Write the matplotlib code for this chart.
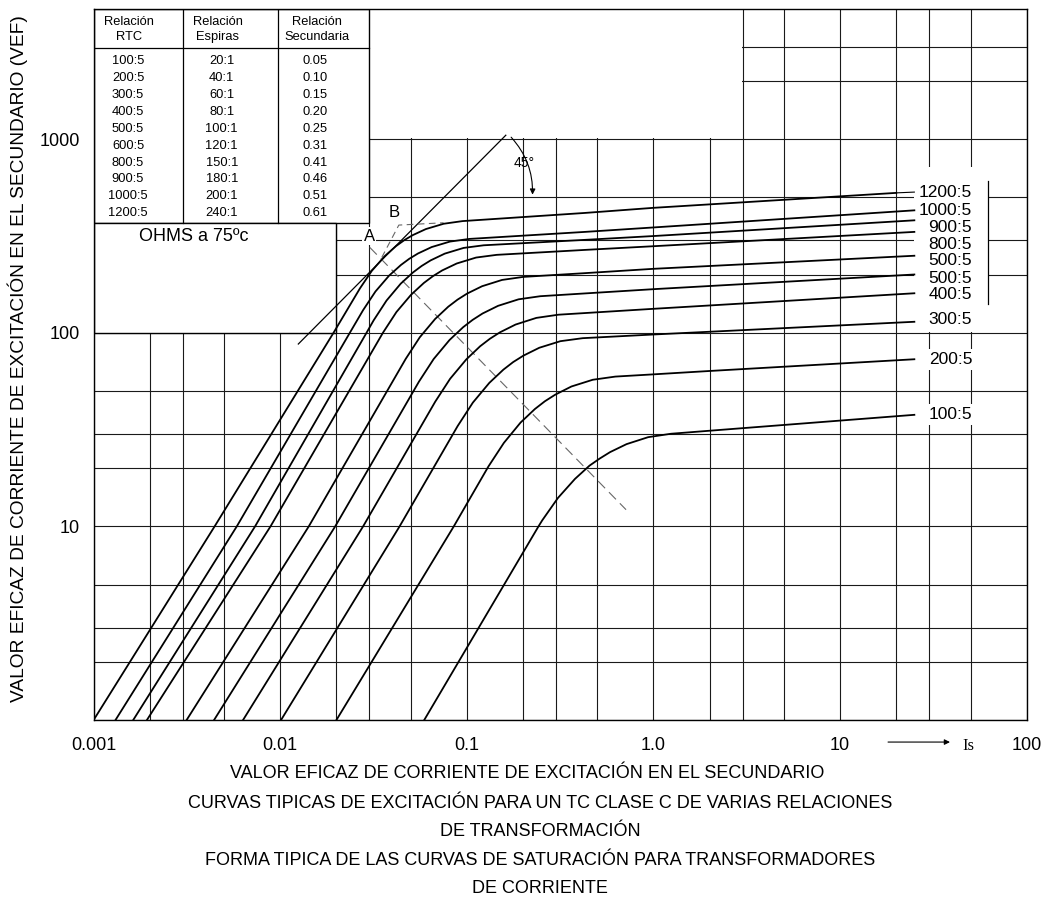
import matplotlib
matplotlib.use('Agg')
import matplotlib.pyplot as plt
from matplotlib.patches import Rectangle
from matplotlib.ticker import NullFormatter

plt.rcParams['font.family'] = ['Liberation Sans', 'DejaVu Sans']

# excitation curves: Is (A) -> Vef (V)
x_1200 = [0.001, 0.00445, 0.0193, 0.02674, 0.03094, 0.03636, 0.04183, 0.0462, 0.05124, 0.06034, 0.0751, 0.09489, 0.43, 1.0, 20]
y_1200 = [1, 10, 100, 169.6, 208.8, 249.3, 280.9, 300.9, 319.3, 343.4, 365.7, 377.5, 416, 442, 528]
x_1000 = [0.00131, 0.00585, 0.0236, 0.0278, 0.03239, 0.03834, 0.04436, 0.04914, 0.05471, 0.06479, 0.0812, 0.1033, 0.43, 1.0, 25]
y_1000 = [1, 10, 100, 130.9, 163.5, 197.5, 224.1, 241.1, 256.8, 277.2, 295.9, 305.4, 332, 350, 429]
x_900 = [0.00163, 0.00733, 0.029, 0.03165, 0.03713, 0.04423, 0.05148, 0.05725, 0.06397, 0.07616, 0.0961, 0.1231, 0.43, 1.0, 25]
y_900 = [1, 10, 100, 115.9, 146.8, 179.4, 205.1, 221.4, 236.6, 256.4, 274.4, 283.1, 302, 316, 381]
x_800 = [0.00193, 0.00887, 0.0355, 0.04194, 0.05033, 0.05888, 0.06575, 0.07373, 0.08826, 0.1121, 0.1446, 0.43, 1.0, 25]
y_800 = [1, 10, 100, 128, 157.5, 181, 196, 209.9, 228, 244.7, 252.7, 268, 280, 332]
x_600 = [0.00315, 0.01422, 0.04702, 0.05594, 0.06759, 0.07952, 0.08911, 0.1003, 0.1207, 0.1544, 0.2006, 0.42, 1.0, 25]
y_600 = [1, 10, 73.3, 94.8, 117.8, 136.4, 148.3, 159.4, 174, 187.5, 194.4, 203, 214, 250]
x_500 = [0.00442, 0.0197, 0.05542, 0.0664, 0.08077, 0.09555, 0.1074, 0.1214, 0.147, 0.1893, 0.2475, 0.42, 1.0, 25]
y_500 = [1, 10, 56, 73.2, 91.8, 106.9, 116.6, 125.8, 137.8, 148.9, 154.5, 159.5, 168, 200]
x_400 = [0.00632, 0.0278, 0.06772, 0.08137, 0.09936, 0.1178, 0.1328, 0.1503, 0.1824, 0.2358, 0.3095, 1.0, 25]
y_400 = [1, 10, 44.1, 57.9, 72.9, 85.2, 93.1, 100.5, 110.3, 119.4, 124, 133, 160]
x_300 = [0.0101, 0.0436, 0.08929, 0.1077, 0.1319, 0.1569, 0.1771, 0.2009, 0.2445, 0.3171, 0.4176, 1.0, 25]
y_300 = [1, 10, 33, 43.6, 55.1, 64.5, 70.6, 76.2, 83.7, 90.5, 93.8, 98, 114]
x_200 = [0.02, 0.0851, 0.1305, 0.1579, 0.1941, 0.2316, 0.2619, 0.2975, 0.3633, 0.4727, 0.6245, 1.0, 2.0, 25]
y_200 = [1, 10, 20.4, 27, 34.4, 40.4, 44.3, 47.9, 52.8, 57.2, 59.4, 61, 63.5, 73]
x_100 = [0.0591, 0.242, 0.2535, 0.3079, 0.3798, 0.4543, 0.5147, 0.5858, 0.7172, 0.9365, 1.242, 2.0, 25]
y_100 = [1, 10, 10.75, 14.04, 17.6, 20.6, 22.4, 24.2, 26.6, 28.9, 30.1, 31.2, 37.7]

curve_labels = ['1200:5', '1000:5', '900:5', '800:5', '500:5', '500:5', '400:5', '300:5', '200:5', '100:5']
label_y = [533, 429, 351, 286, 237, 191, 157, 117, 73, 37.9]

# tangent (45 deg) and knee lines
tangent_x = [0.0125, 0.1617]
tangent_y = [87.5, 1048]
knee_a_x = [0.0302, 0.713]
knee_a_y = [276, 12.2]
knee_b_x = [0.035, 0.0432, 0.075]
knee_b_y = [245, 360, 370]

# table
rtc = ['100:5', '200:5', '300:5', '400:5', '500:5', '600:5', '800:5', '900:5', '1000:5', '1200:5']
espiras = ['20:1', '40:1', '60:1', '80:1', '100:1', '120:1', '150:1', '180:1', '200:1', '240:1']
secundaria = ['0.05', '0.10', '0.15', '0.20', '0.25', '0.31', '0.41', '0.46', '0.51', '0.61']
headers = ['Relación\nRTC', 'Relación\nEspiras', 'Relación\nSecundaria']

x_ticks = [0.001, 0.01, 0.1, 1, 10, 100]
x_tick_labels = ['0.001', '0.01', '0.1', '1.0', '10', '100']
y_ticks = [1, 10, 100, 1000]
y_tick_labels = ['', '10', '100', '1000']

fig = plt.figure(figsize=(10.59, 9.05), dpi=100)
ax = fig.add_axes([0.0884, 0.2044, 0.8811, 0.7856])
ax.set_xscale('log')
ax.set_yscale('log')
ax.set_xlim(0.001, 100)
ax.set_ylim(1, 4700)

minor_x = [m * 10.0 ** e for e in range(-3, 2) for m in (2, 3, 5)]
minor_y = [m * 10.0 ** e for e in range(0, 4) for m in (2, 3, 5) if m * 10.0 ** e < 4700]
ax.set_xticks(x_ticks)
ax.set_xticklabels(x_tick_labels, fontsize=13)
ax.set_xticks(minor_x, minor=True)
ax.set_yticks(y_ticks)
ax.set_yticklabels(y_tick_labels, fontsize=13)
ax.set_yticks(minor_y, minor=True)
ax.xaxis.set_minor_formatter(NullFormatter())
ax.yaxis.set_minor_formatter(NullFormatter())
ax.tick_params(which='both', length=0)
ax.tick_params(axis='x', pad=12)
ax.tick_params(axis='y', pad=10)
ax.set_axisbelow(True)
ax.grid(True, which='both', color='#1a1a1a', linewidth=0.8)
for s in ax.spines.values():
    s.set_linewidth(1.0)

# blank areas of the drawing
ax.add_patch(Rectangle((0.0302, 1010), 2.98 - 0.0302, 4700 - 1010, facecolor='white', edgecolor='none', zorder=1))
ax.add_patch(Rectangle((25, 101), 62 - 25, 721 - 101, facecolor='white', edgecolor='none', zorder=1))
ax.plot([62, 62], [141, 609], color='black', lw=0.9, zorder=1.5)

# table box + ohms box
ax.add_patch(Rectangle((0.001, 370), 0.03 - 0.001, 4700 - 370, facecolor='white', edgecolor='black', lw=1, zorder=1))
ax.add_patch(Rectangle((0.001, 100), 0.02 - 0.001, 370 - 100, facecolor='white', edgecolor='black', lw=1, zorder=1))
ax.plot([0.001, 0.03], [2960, 2960], color='black', lw=0.9, zorder=1.5)
ax.plot([0.003, 0.003], [370, 4700], color='black', lw=0.9, zorder=1.5)
ax.plot([0.0097, 0.0097], [370, 4700], color='black', lw=0.9, zorder=1.5)

col_x = [0.0369, 0.1373, 0.2373]
head_x = [0.038, 0.1333, 0.2391]
for hx, h in zip(head_x, headers):
    ax.text(hx, 0.9712, h, transform=ax.transAxes, ha='center', va='center',
            fontsize=9.3, linespacing=1.25, zorder=4)
for i in range(len(rtc)):
    ry = 0.9269 - i * 0.0238
    ax.text(col_x[0], ry, rtc[i], transform=ax.transAxes, ha='center', va='center', fontsize=9.3, zorder=4)
    ax.text(col_x[1], ry, espiras[i], transform=ax.transAxes, ha='center', va='center', fontsize=9.3, zorder=4)
    ax.text(col_x[2], ry, secundaria[i], transform=ax.transAxes, ha='center', va='center', fontsize=9.3, zorder=4)
ax.text(0.1076, 0.6797, 'OHMS a 75ºc', transform=ax.transAxes, ha='center', va='center', fontsize=13, zorder=4)

# curves
curves = [(x_1200, y_1200), (x_1000, y_1000), (x_900, y_900), (x_800, y_800), (x_600, y_600),
          (x_500, y_500), (x_400, y_400), (x_300, y_300), (x_200, y_200), (x_100, y_100)]
for cx, cy in curves:
    ax.plot(cx, cy, color='black', lw=1.3, zorder=3)
ax.plot([x_1200[-1], 25], [y_1200[-1], label_y[0]], color='black', lw=0.8, zorder=3)

for i, lab in enumerate(curve_labels):
    if i >= 8:
        ax.text(51, label_y[i], lab, ha='right', va='center', fontsize=12.5, zorder=4,
                bbox=dict(facecolor='white', edgecolor='none', pad=2))
    else:
        ax.text(51, label_y[i], lab, ha='right', va='center', fontsize=12.5, zorder=4)

ax.plot(tangent_x, tangent_y, color='black', lw=0.9, zorder=2.5)
ax.plot(knee_a_x, knee_a_y, color='#666666', lw=0.8, dashes=(9, 5), zorder=2.5)
ax.plot(knee_b_x, knee_b_y, color='#666666', lw=0.8, dashes=(6, 4), zorder=2.5)

ax.text(0.03, 315, 'A', ha='center', va='center', fontsize=12, zorder=4,
        bbox=dict(facecolor='white', edgecolor='none', pad=1))
ax.text(0.041, 419, 'B', ha='center', va='center', fontsize=12, zorder=4,
        bbox=dict(facecolor='white', edgecolor='none', pad=1))
ax.text(0.2032, 750, '45°', ha='center', va='center', fontsize=10, zorder=4)
ax.annotate('', xy=(0.2248, 517), xytext=(0.1727, 1024),
            arrowprops=dict(arrowstyle='-|>', color='black', lw=0.8, mutation_scale=8,
                            connectionstyle='arc3,rad=-0.2', shrinkA=0, shrinkB=0), zorder=4)

# Is arrow under the x axis
ax.annotate('', xy=(0.9178, -0.031), xytext=(0.8514, -0.031), xycoords='axes fraction',
            arrowprops=dict(arrowstyle='-|>', color='black', lw=0.8, mutation_scale=8,
                            shrinkA=0, shrinkB=0), annotation_clip=False)
ax.text(0.9371, -0.036, 'Is', transform=ax.transAxes, ha='center', va='center', fontsize=12,
        family=['Liberation Serif', 'DejaVu Serif'])

fig.text(18 / 1059, 1 - 359 / 905, 'VALOR EFICAZ DE CORRIENTE DE EXCITACIÓN EN EL SECUNDARIO (VEF)',
         rotation=90, ha='center', va='center', fontsize=13.8)
bottom_lines = ['VALOR EFICAZ DE CORRIENTE DE EXCITACIÓN EN EL SECUNDARIO',
                'CURVAS TIPICAS DE EXCITACIÓN PARA UN TC CLASE C DE VARIAS RELACIONES',
                'DE TRANSFORMACIÓN',
                'FORMA TIPICA DE LAS CURVAS DE SATURACIÓN PARA TRANSFORMADORES',
                'DE CORRIENTE']
bottom_px = [773, 803, 831, 860, 888]
bottom_cx = [527, 540, 540, 540, 540]
for t, py, px in zip(bottom_lines, bottom_px, bottom_cx):
    fig.text(px / 1059, 1 - py / 905, t, ha='center', va='center', fontsize=13)

fig.savefig('out.png', dpi=100, facecolor='white')
